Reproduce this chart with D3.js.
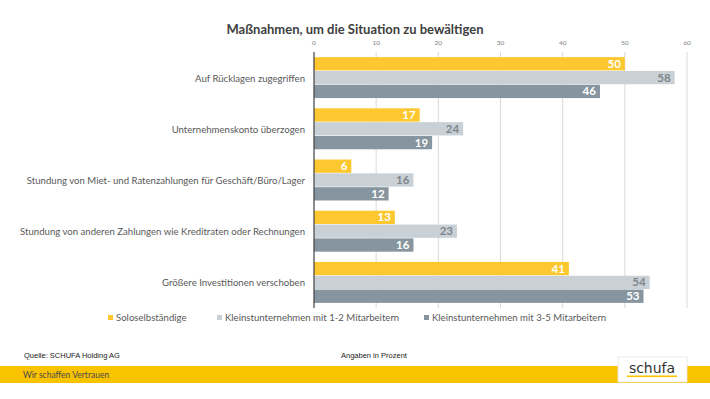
<!DOCTYPE html>
<html>
<head>
<meta charset="utf-8">
<script src="https://cdn.jsdelivr.net/npm/d3@7"></script>
<style>
  body { margin: 0; background: #fff; }
  text { font-family: Lato, "Open Sans", sans-serif; }
</style>
</head>
<body>
<script>
const categories = [
  "Auf Rücklagen zugegriffen",
  "Unternehmenskonto überzogen",
  "Stundung von Miet- und Ratenzahlungen für Geschäft/Büro/Lager",
  "Stundung von anderen Zahlungen wie Kreditraten oder Rechnungen",
  "Größere Investitionen verschoben"
];
const seriesNames = [
  "Soloselbständige",
  "Kleinstunternehmen mit 1-2 Mitarbeitern",
  "Kleinstunternehmen mit 3-5 Mitarbeitern"
];
const solo = [50, 17, 6, 13, 41];
const small12 = [58, 24, 16, 23, 54];
const small35 = [46, 19, 12, 16, 53];
const ticks = [0, 10, 20, 30, 40, 50, 60];

const colors = ["#fdc82f", "#c9d1d7", "#86959f"];
const labelColors = ["#fff", "#7f868b", "#fff"];

const width = 710, height = 399;
const svg = d3.select("body").append("svg")
  .attr("width", width)
  .attr("height", height);

const x = d3.scaleLinear().domain([0, 60]).range([314, 687]);
const y0 = d3.scaleBand().domain(categories).range([52, 308]).paddingInner(0.2).paddingOuter(0.1);
const y1 = d3.scaleBand().domain(seriesNames).range([0, y0.bandwidth()]).paddingInner(0.04);

const series = [solo, small12, small35];

// title
svg.append("text")
  .attr("x", 355).attr("y", 34)
  .attr("text-anchor", "middle")
  .attr("font-size", 13).attr("font-weight", "bold")
  .attr("fill", "#404040")
  .text("Maßnahmen, um die Situation zu bewältigen");

// grid + top ticks
svg.append("g").selectAll("line").data(ticks.slice(1)).enter().append("line")
  .attr("x1", d => x(d)).attr("x2", d => x(d))
  .attr("y1", 52).attr("y2", 308)
  .attr("stroke", "#d9d9d9").attr("stroke-width", 1);

svg.append("g").selectAll("text").data(ticks).enter().append("text")
  .attr("x", d => x(d)).attr("y", 45)
  .attr("text-anchor", "middle")
  .attr("font-size", 6.5).attr("fill", "#7f7f7f")
  .text(d => d);

// bars
const groups = svg.append("g").selectAll("g").data(categories).enter().append("g")
  .attr("transform", d => `translate(0,${y0(d)})`);

groups.each(function (cat, ci) {
  const g = d3.select(this);
  seriesNames.forEach((s, si) => {
    const v = series[si][ci];
    g.append("rect")
      .attr("x", x(0)).attr("y", y1(s))
      .attr("width", x(v) - x(0)).attr("height", y1.bandwidth())
      .attr("fill", colors[si]);
    g.append("text")
      .attr("x", x(v) - 4).attr("y", y1(s) + y1.bandwidth() / 2 + 4)
      .attr("text-anchor", "end")
      .attr("font-size", 11.5).attr("font-weight", "bold")
      .attr("fill", labelColors[si])
      .text(v);
  });
  g.append("text")
    .attr("x", 305).attr("y", y0.bandwidth() / 2 + 4)
    .attr("text-anchor", "end")
    .attr("font-size", 9.6).attr("fill", "#595959")
    .text(cat);
});

// axis line
svg.append("line")
  .attr("x1", x(0)).attr("x2", x(0))
  .attr("y1", 52).attr("y2", 308)
  .attr("stroke", "#404040").attr("stroke-width", 1.2);

// legend
const legendX = [108, 217, 424];
const legend = svg.append("g").selectAll("g").data(seriesNames).enter().append("g")
  .attr("transform", (d, i) => `translate(${legendX[i]},320)`);
legend.append("rect")
  .attr("x", 0).attr("y", -5).attr("width", 5).attr("height", 5)
  .attr("fill", (d, i) => colors[i]);
legend.append("text")
  .attr("x", 8).attr("y", 0.5)
  .attr("font-size", 9.6).attr("fill", "#595959")
  .text(d => d);

// footer
svg.append("text")
  .attr("x", 24).attr("y", 358)
  .style("font-family", "'Liberation Sans', Arial, sans-serif")
  .attr("font-size", 7.5).attr("fill", "#222")
  .text("Quelle: SCHUFA  Holding AG");
svg.append("text")
  .attr("x", 341).attr("y", 358)
  .style("font-family", "'Liberation Sans', Arial, sans-serif")
  .attr("font-size", 7.5).attr("fill", "#222")
  .text("Angaben in Prozent");

svg.append("rect")
  .attr("x", 0).attr("y", 366).attr("width", width).attr("height", 17)
  .attr("fill", "#fac300");
svg.append("text")
  .attr("x", 23).attr("y", 378)
  .attr("font-size", 8.5).attr("fill", "#4a4a4a")
  .text("Wir schaffen Vertrauen");

// logo
svg.append("rect")
  .attr("x", 618).attr("y", 357).attr("width", 69).attr("height", 25)
  .attr("fill", "#fff").attr("stroke", "#e6e6e6").attr("stroke-width", 0.8);
svg.append("text")
  .attr("x", 652).attr("y", 373)
  .attr("text-anchor", "middle")
  .style("font-family", "'DejaVu Sans', sans-serif")
  .attr("font-size", 14).attr("fill", "#333")
  .text("schufa");
svg.append("rect")
  .attr("x", 627).attr("y", 375.5).attr("width", 50).attr("height", 1.6)
  .attr("fill", "#fac300");
</script>
</body>
</html>
